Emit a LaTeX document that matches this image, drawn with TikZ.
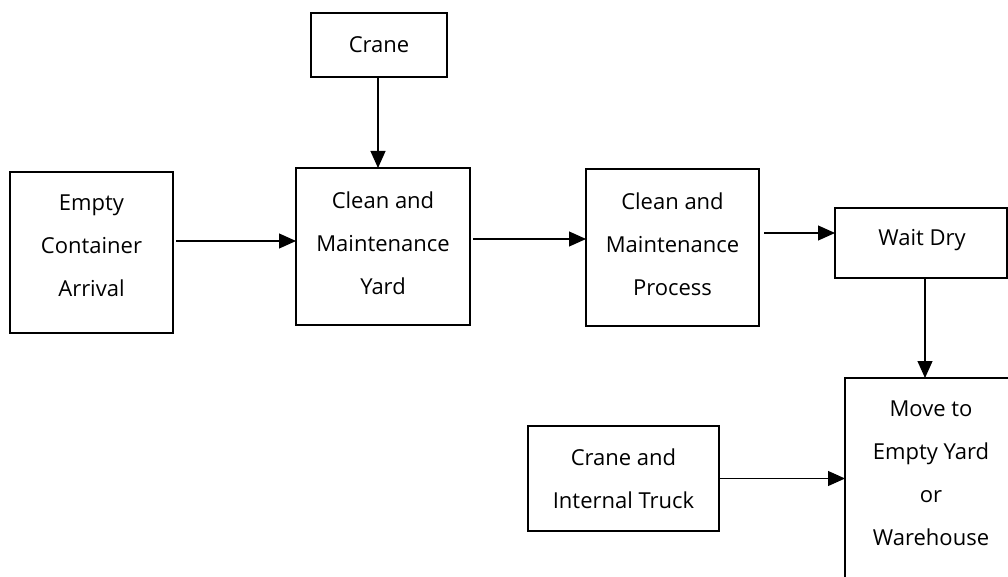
\documentclass[tikz,border=0pt]{standalone}
\usepackage{fontspec}
\setmainfont{Open Sans}
\usetikzlibrary{arrows.meta}
\begin{document}
\begin{tikzpicture}[x=1pt,y=-1pt,
  box/.style={draw, line width=1.6pt, inner sep=0pt, outer sep=0pt},
  lbl/.style={font=\fontsize{22}{43}\selectfont, align=center, inner sep=0pt},
  flow/.style={line width=1.1pt, -{Triangle[length=17pt,width=15pt]}}]
\useasboundingbox (0,0) rectangle (1008,577);
\clip (0,0) rectangle (1008,577);

% boxes
\node[box, minimum width=136pt, minimum height=64pt]  (crane)   at (379,45)    {};
\node[box, minimum width=163pt, minimum height=161pt] (empty)   at (91.5,252.5) {};
\node[box, minimum width=174pt, minimum height=157pt] (yard)    at (383,246.5) {};
\node[box, minimum width=173pt, minimum height=157pt] (process) at (672.5,247.5) {};
\node[box, minimum width=172pt, minimum height=70pt]  (wait)    at (921,243)   {};
\node[box, minimum width=172pt, minimum height=222pt] (move)    at (931,489)   {};
\node[box, minimum width=191pt, minimum height=105pt] (cit)     at (623.5,478.5) {};

% labels
\node[lbl] (tcrane)   at (crane)        {Crane};
\node[lbl] (tempty)   at (91.5,245.5)   {Empty\\Container\\Arrival};
\node[lbl] (tyard)    at (383,243)      {Clean and\\Maintenance\\Yard};
\node[lbl] (tprocess) at (672.5,244)    {Clean and\\Maintenance\\Process};
\node[lbl] (twait)    at (922,240)      {Wait Dry};
\node[lbl] (tmove)    at (931,473)      {Move to\\Empty Yard\\or\\Warehouse};
\node[lbl] (tcit)     at (623.5,478.5)  {Crane and\\Internal Truck};

% connectors
\coordinate (c1) at ([xshift=-1pt]crane.south);
\draw[flow] (c1) -- (c1 |- yard.north);

\coordinate (e1) at ([yshift=11.5pt,xshift=3pt]empty.east);
\draw[flow] (e1) -- (e1 -| yard.west);

\coordinate (y1) at ([yshift=7.5pt,xshift=3pt]yard.east);
\draw[flow] (y1) -- (y1 -| process.west);

\coordinate (p1) at ([yshift=14.5pt,xshift=5pt]process.east);
\draw[flow] (p1) -- (p1 -| wait.west);

\coordinate (w1) at ([xshift=4pt]wait.south);
\draw[flow] (w1) -- (w1 |- move.north);

\draw[flow] (cit.east) -- (cit.east -| move.west);
\end{tikzpicture}
\end{document}
